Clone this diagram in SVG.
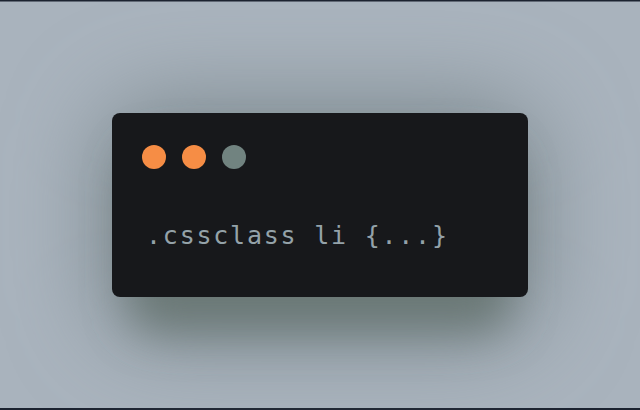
<svg xmlns="http://www.w3.org/2000/svg" width="640" height="410" viewBox="0 0 640 410">
<defs>
<filter id="sh1" x="-60%" y="-100%" width="220%" height="300%">
<feGaussianBlur stdDeviation="45"/>
</filter>
<filter id="sh2" x="-50%" y="-80%" width="200%" height="260%">
<feGaussianBlur stdDeviation="22"/>
</filter>
<style>
.dot-on{fill:#f68d45}
.dot-off{fill:#718380}
.code{font-family:"DejaVu Sans Mono","Liberation Mono",monospace;font-size:25px;fill:#94a2a9}
</style>
</defs>
<rect x="0" y="0" width="640" height="410" fill="#a9b3bd"/>
<rect x="0" y="0" width="640" height="1.5" fill="#1c2330"/>
<rect x="0" y="408" width="640" height="2" fill="#1c2330"/>
<g id="shadow">
<rect x="100" y="100" width="440" height="240" rx="60" fill="#7e8a90" filter="url(#sh1)"/>
<rect x="130" y="150" width="380" height="180" rx="30" fill="#6b7876" filter="url(#sh2)"/>
</g>
<g id="window">
<rect x="112" y="113" width="416" height="184" rx="8" fill="#17181b"/>
<circle class="dot-on" cx="154" cy="157" r="12"/>
<circle class="dot-on" cx="194" cy="157" r="12"/>
<circle class="dot-off" cx="234" cy="157" r="12"/>
<text class="code" x="146" y="244" textLength="301">.cssclass li {...}</text>
</g>
</svg>
